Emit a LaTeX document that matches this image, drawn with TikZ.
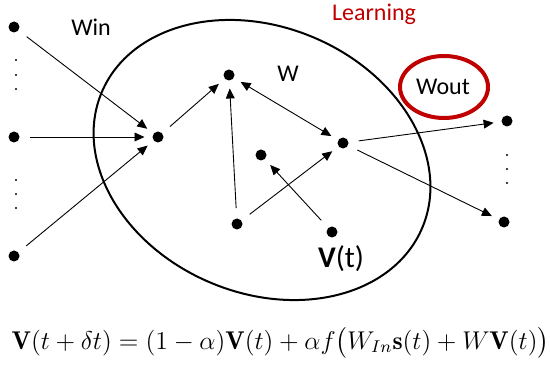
\documentclass[tikz,border=0pt]{standalone}
\usepackage{amsmath}
\usepackage{fontspec}
\setsansfont{Carlito}
\usetikzlibrary{arrows.meta}
\definecolor{learnred}{HTML}{C00000}
\tikzset{
  neuron/.style={circle, fill=black, inner sep=0pt, minimum size=5.5pt},
  link/.style={-{Triangle[length=5pt,width=4.4pt]}, line width=0.45pt, shorten <=5pt, shorten >=3.8pt},
  lbl/.style={font=\sffamily\fontsize{12}{14}\selectfont, anchor=base, inner sep=0pt},
}
\begin{document}
\begin{tikzpicture}[x=0.5pt, y=-0.5pt]
  \useasboundingbox (0,0) rectangle (550,368);
  % Reservoir
  \draw[line width=1pt, rotate around={-23:(262,160)}] (262,160) ellipse [x radius=174, y radius=133];
  % Neurons
  \node[neuron] (in1) at (14,27) {};
  \node[neuron] (in2) at (14,137) {};
  \node[neuron] (in3) at (14,256) {};
  \node[neuron] (hub) at (158,137) {};
  \node[neuron] (top) at (229,75) {};
  \node[neuron] (mid) at (261,155) {};
  \node[neuron] (rgt) at (343,143) {};
  \node[neuron] (bl) at (237,224) {};
  \node[neuron] (br) at (332,232) {};
  \node[neuron] (out1) at (507,121) {};
  \node[neuron] (out2) at (504,222) {};
  % Vertical dots
  \foreach \y in {60,75,89,180,194,208}
    \fill (16,\y) circle (0.6pt);
  \foreach \y in {155,169,183}
    \fill (507,\y) circle (0.6pt);
  % Connections
  \draw[link] (in1) -- (hub);
  \draw[link] (in2) -- (hub);
  \draw[link] (in3) -- (hub);
  \draw[link] (hub) -- (top);
  \draw[link] (bl) -- (top);
  \draw[link, {Triangle[length=5pt,width=4.4pt]}-{Triangle[length=5pt,width=4.4pt]}, shorten <=3.8pt] (top) -- (rgt);
  \draw[link] (bl) -- (rgt);
  \draw[link] (br) -- (mid);
  \draw[link] (rgt) -- (out1);
  \draw[link] (rgt) -- (out2);
  % Labels
  \node[lbl] (win) at (91,36) {Win};
  \node[lbl] (wres) at (288,82) {W};
  \node[lbl] (wout) at (443,95) {Wout};
  \draw[learnred, line width=2pt] (444,87) ellipse [x radius=44, y radius=31];
  \node[lbl, text=learnred] (learn) at (374,21) {Learning};
  \node[lbl, font=\sffamily\fontsize{15}{17}\selectfont] (state) at (341,268) {\textbf{V}(t)};
  % Update rule
  \node[anchor=base, inner sep=0pt, font=\fontsize{12}{14}\selectfont] (eq) at (280.5,349)
    {\scalebox{1.07}{$\mathbf{V}(t+\delta t)=(1-\alpha)\mathbf{V}(t)+\alpha f\bigl(W_{In}\mathbf{s}(t)+W\mathbf{V}(t)\bigr)$}};
\end{tikzpicture}
\end{document}
